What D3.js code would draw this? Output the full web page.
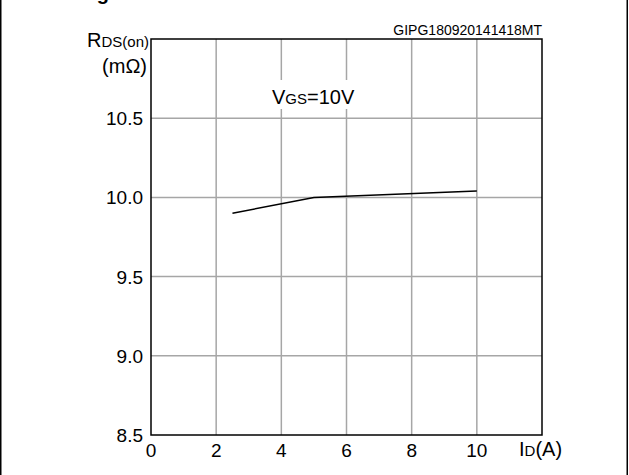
<!DOCTYPE html>
<html>
<head>
<meta charset="utf-8">
<script src="https://cdn.jsdelivr.net/npm/d3@7"></script>
<style>
  body { margin: 0; background: #fff; }
  svg { display: block; font-family: "Liberation Sans", Arial, sans-serif; }
</style>
</head>
<body>
<div id="chart"></div>
<script>
// DATA
const idValues = [2.5, 5, 10];
const rdsValues = [9.9, 10.0, 10.04];
const xTicks = [0, 2, 4, 6, 8, 10];
const yTicks = [8.5, 9.0, 9.5, 10.0, 10.5];
const xGrid = [2, 4, 6, 8, 10];
const yGrid = [9.0, 9.5, 10.0, 10.5];

const width = 629, height = 475;
const margin = { top: 39, left: 151, right: 87, bottom: 40 };

const svg = d3.select("#chart").append("svg")
  .attr("width", width).attr("height", height);

// outer frame
svg.append("rect")
  .attr("x", 0.75).attr("y", -2).attr("width", width - 2.5).attr("height", height + 4)
  .attr("fill", "none").attr("stroke", "#000").attr("stroke-width", 1.5);

// title, cut off at the top like the source image
svg.append("text")
  .attr("x", 79).attr("y", -0.5)
  .attr("font-size", 20).attr("font-weight", "bold")
  .text("Figure 7. Static drain-source on-resistance");

const xScale = d3.scaleLinear().domain([0, 12]).range([margin.left, width - margin.right]);
const yScale = d3.scaleLinear().domain([8.5, 11]).range([height - margin.bottom, margin.top]);

// grid
svg.append("g").selectAll("line").data(xGrid).join("line")
  .attr("x1", d => xScale(d)).attr("x2", d => xScale(d))
  .attr("y1", yScale(11)).attr("y2", yScale(8.5))
  .attr("stroke", "#a6a6a6").attr("stroke-width", 1.5);
svg.append("g").selectAll("line").data(yGrid).join("line")
  .attr("x1", xScale(0)).attr("x2", xScale(12))
  .attr("y1", d => yScale(d)).attr("y2", d => yScale(d))
  .attr("stroke", "#a6a6a6").attr("stroke-width", 1.5);

// plot border
svg.append("rect")
  .attr("x", xScale(0)).attr("y", yScale(11))
  .attr("width", xScale(12) - xScale(0)).attr("height", yScale(8.5) - yScale(11))
  .attr("fill", "none").attr("stroke", "#000").attr("stroke-width", 1.5);

// tick labels
svg.append("g").selectAll("text").data(xTicks).join("text")
  .attr("x", d => xScale(d)).attr("y", yScale(8.5) + 22)
  .attr("text-anchor", "middle").attr("font-size", 19)
  .text(d => d);
svg.append("g").selectAll("text").data(yTicks).join("text")
  .attr("x", xScale(0) - 8).attr("y", d => yScale(d) + 7)
  .attr("text-anchor", "end").attr("font-size", 19)
  .text(d => d.toFixed(1));

// curve
const line = d3.line().x(d => xScale(d[0])).y(d => yScale(d[1]));
svg.append("path")
  .datum(idValues.map((d, i) => [d, rdsValues[i]]))
  .attr("d", line)
  .attr("fill", "none").attr("stroke", "#000").attr("stroke-width", 1.5);

// axis labels
const yl = svg.append("text").attr("x", 149).attr("y", 47).attr("text-anchor", "end").attr("font-size", 20);
yl.append("tspan").text("R");
yl.append("tspan").attr("font-size", 15).text("DS(on)");
svg.append("text").attr("x", 147).attr("y", 73).attr("text-anchor", "end").attr("font-size", 20).text("(mΩ)");

const xl = svg.append("text").attr("x", 519).attr("y", yScale(8.5) + 21).attr("font-size", 20);
xl.append("tspan").text("I");
xl.append("tspan").attr("font-size", 15).text("D");
xl.append("tspan").text("(A)");

// condition label sits on a white box that hides the grid behind it
const vgBox = svg.append("rect").attr("fill", "#fff");
const vg = svg.append("text").attr("x", 272).attr("y", 104).attr("font-size", 20);
vg.append("tspan").text("V");
vg.append("tspan").attr("font-size", 15).text("GS");
vg.append("tspan").text("=10V");
const bb = vg.node().getBBox();
vgBox.attr("x", bb.x - 4).attr("y", bb.y - 6).attr("width", bb.width + 8).attr("height", bb.height + 7);

svg.append("text").attr("x", xScale(12)).attr("y", 35).attr("text-anchor", "end")
  .attr("font-size", 14).text("GIPG180920141418MT");
</script>
</body>
</html>
